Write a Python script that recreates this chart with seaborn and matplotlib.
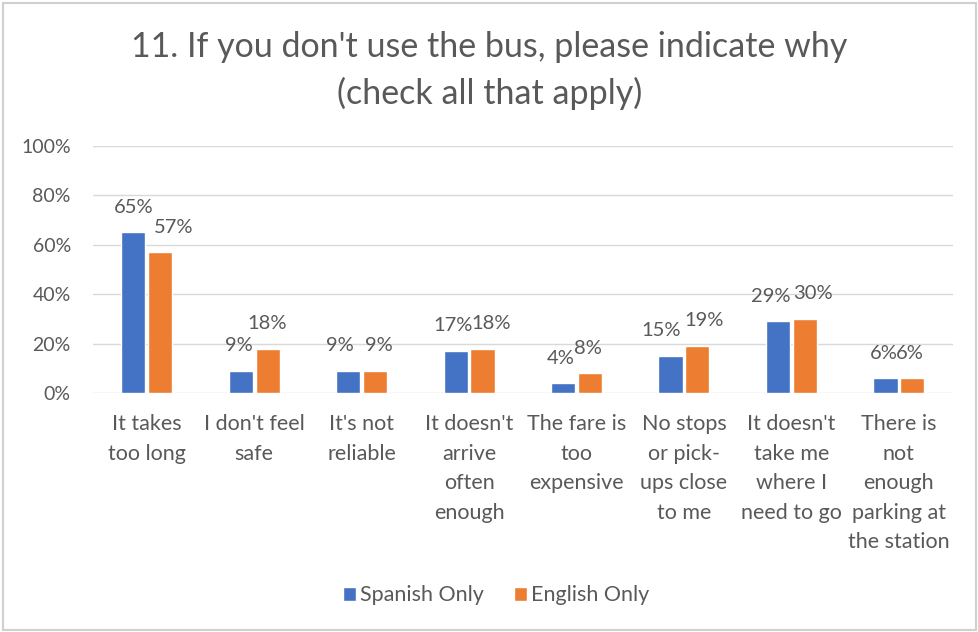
import pandas as pd
import matplotlib.pyplot as plt
import matplotlib.patches as mpatches
import seaborn as sns

# Survey question 11 - reasons for not using the bus
categories = [
    "It takes\ntoo long",
    "I don't feel\nsafe",
    "It's not\nreliable",
    "It doesn't\narrive\noften\nenough",
    "The fare is\ntoo\nexpensive",
    "No stops\nor pick-\nups close\nto me",
    "It doesn't\ntake me\nwhere I\nneed to go",
    "There is\nnot\nenough\nparking at\nthe station",
]
spanish_only = [65, 9, 9, 17, 4, 15, 29, 6]
english_only = [57, 18, 9, 18, 8, 19, 30, 6]
series_names = ["Spanish Only", "English Only"]
yticks = [0, 20, 40, 60, 80, 100]

df = pd.DataFrame({
    "reason": categories * 2,
    "pct": spanish_only + english_only,
    "group": [series_names[0]] * len(categories) + [series_names[1]] * len(categories),
})

# small sideways nudges (points) so neighbouring labels don't collide, like Excel did
nudge = {
    0: [0, -1, -6, -2, -1.5, -6.5, -5, -1.5],
    1: [10, 0, 3, 6, -1.5, 5, 6, -2],
}

sns.set_style("white")
plt.rcParams["font.family"] = ["Lato", "DejaVu Sans"]
text_gray = "#595959"

fig = plt.figure(figsize=(9.79, 6.32), dpi=100)
ax = fig.add_axes([0.095, 0.378, 0.878, 0.391])

sns.barplot(data=df, x="reason", y="pct", hue="group", order=categories,
            palette=["#4472C4", "#ED7D31"], width=0.5, gap=0.1, ax=ax,
            saturation=1, legend=True)

for i, cont in enumerate(ax.containers):
    texts = ax.bar_label(cont, fmt="%d%%", padding=12, fontsize=14.5, color=text_gray)
    for j, t in enumerate(texts):
        t.xyann = (nudge[i][j], 12)

ax.set_ylim(0, 100)
ax.set_yticks(yticks)
ax.set_yticklabels([f"{t}%" for t in yticks], fontsize=14, color=text_gray)
ax.grid(axis="y", color="#D9D9D9", linewidth=1)
ax.set_axisbelow(True)
for side in ["top", "right", "left", "bottom"]:
    ax.spines[side].set_visible(False)
ax.tick_params(axis="both", length=0)
ax.tick_params(axis="y", pad=16)
ax.set_xticks(range(len(categories)))
ax.set_xticklabels(categories, fontsize=15.5, color=text_gray, linespacing=1.6, va="top")
ax.tick_params(axis="x", pad=15)
ax.set_xlabel("")
ax.set_ylabel("")

handles, labels = ax.get_legend_handles_labels()
ax.legend(handles, labels, loc="center", bbox_to_anchor=(0.507, 0.058),
          bbox_transform=fig.transFigure, ncol=2, frameon=False,
          fontsize=15.5, labelcolor=text_gray, handlelength=0.6, handleheight=0.6,
          handletextpad=0.2, columnspacing=1.4)

fig.suptitle("11. If you don't use the bus, please indicate why\n(check all that apply)",
             y=0.951, fontsize=24.5, color=text_gray, linespacing=1.5)

fig.patches.append(mpatches.Rectangle((0.003, 0.003), 0.994, 0.992, transform=fig.transFigure,
                                      fill=False, edgecolor="#D0D0D0", linewidth=1.5))

fig.savefig("out.png", dpi=100)
